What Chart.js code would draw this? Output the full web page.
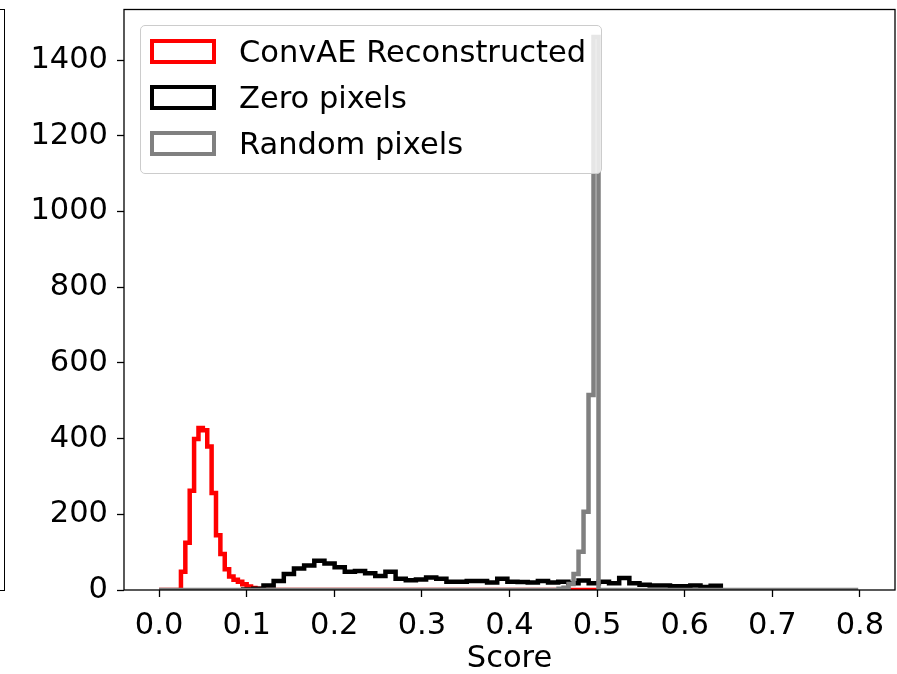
<!DOCTYPE html>
<html>
<head>
<meta charset="utf-8">
<script src="https://cdn.jsdelivr.net/npm/chart.js@4.4.0/dist/chart.umd.min.js"></script>
<style>
  html, body { margin: 0; padding: 0; background: #fff; }
  #wrap { position: relative; width: 897px; height: 674px; overflow: hidden;
          font-family: 'DejaVu Sans', sans-serif; }
  #px { position: absolute; left: 0; top: 0; }
  #prev { position: absolute; left: -20px; top: 9px; width: 25px; height: 582px;
          border: 1.3px solid #000; box-sizing: border-box; }
  #legend { position: absolute; left: 140px; top: 25px; width: 462px; height: 149px;
            border: 1.3px solid #cccccc; border-radius: 5px; box-sizing: border-box;
            background: rgba(255,255,255,0.8); }
  .handle { position: absolute; left: 150px; width: 66px; height: 25px;
            border: 4.5px solid; box-sizing: border-box; }
  .label { position: absolute; left: 239px; font-size: 30.5px; line-height: 36px;
           white-space: nowrap; color: #000; }
</style>
</head>
<body>
<div id="wrap">
  <div id="prev"></div>
  <canvas id="px" width="897" height="674"></canvas>
  <div id="legend"></div>
</div>
<script>
// histogram bins: edges (score) and counts per bin
const redEdges = [0, 0.025, 0.03, 0.035, 0.04, 0.045, 0.05, 0.055, 0.06, 0.065, 0.07,
  0.075, 0.08, 0.085, 0.09, 0.095, 0.1, 0.105, 0.11, 0.115, 0.12, 0.5];
const redCounts = [0, 48, 125, 262, 399, 428, 422, 379, 256, 145, 95,
  55, 36, 27, 22, 15, 9, 5, 3, 1, 0];

const blackEdges = [0.096, 0.1076, 0.1192, 0.1308, 0.1424, 0.154, 0.1656, 0.1772, 0.1888,
  0.2004, 0.212, 0.2236, 0.2352, 0.2468, 0.2584, 0.27, 0.2816, 0.2932, 0.3048, 0.3164,
  0.328, 0.3396, 0.3512, 0.3628, 0.3744, 0.386, 0.3976, 0.4092, 0.4208, 0.4324, 0.444,
  0.4556, 0.4672, 0.4788, 0.4904, 0.502, 0.5136, 0.5252, 0.5368, 0.5484, 0.56, 0.5716,
  0.5832, 0.5948, 0.6064, 0.618, 0.6296, 0.6412];
const blackCounts = [1, 3, 12, 24, 42, 57, 65, 77, 70, 60, 48, 50, 44, 37, 48, 30,
  26, 28, 33, 30, 22, 22, 24, 24, 20, 30, 22, 21, 20, 24, 20, 22, 18, 25, 18, 22,
  18, 32, 18, 14, 12, 12, 10, 10, 12, 8, 11];

const grayEdges = [0, 0.456, 0.4617, 0.4674, 0.4731, 0.4788, 0.4845, 0.4902, 0.4959, 0.5016, 0.798];
const grayCounts = [0, 3, 6, 16, 42, 101, 207, 515, 1461, 0];

const labels = ['ConvAE Reconstructed', 'Zero pixels', 'Random pixels'];
const colors = ['#ff0000', '#000000', '#808080'];

const xTicks = [0, 0.1, 0.2, 0.3, 0.4, 0.5, 0.6, 0.7, 0.8];
const yTicks = [0, 200, 400, 600, 800, 1000, 1200, 1400];

// matplotlib 'step' outline: up at first edge, across each bin, down at last edge
const steps = (edges, counts) => {
  const pts = [{ x: edges[0], y: 0 }];
  counts.forEach((c, i) => pts.push({ x: edges[i], y: c }));
  pts.push({ x: edges[edges.length - 1], y: 0 });
  return pts;
};

const hist = [[redEdges, redCounts], [blackEdges, blackCounts], [grayEdges, grayCounts]];

Chart.defaults.font.family = "'DejaVu Sans', sans-serif";
Chart.defaults.font.size = 30.5;
Chart.defaults.color = '#000';

const frame = {
  id: 'frame',
  afterDatasetsDraw(chart) {
    const { ctx, chartArea: a } = chart;
    ctx.save();
    ctx.strokeStyle = '#000';
    ctx.lineWidth = 1.3;
    ctx.strokeRect(a.left, a.top, a.right - a.left, a.bottom - a.top);
    ctx.restore();
  }
};

// fixed axis sizes, no label-overflow padding
const fitX = s => { s.height = 84; s.paddingLeft = 0; s.paddingRight = 0; };
const fitY = s => { s.width = 124; s.paddingTop = 0; s.paddingBottom = 0; };

new Chart(document.getElementById('px'), {
  type: 'line',
  data: {
    datasets: hist.map(([e, c], i) => ({
      label: labels[i], data: steps(e, c), borderColor: colors[i], borderWidth: 4.5,
      stepped: 'before', fill: false, pointRadius: 0, tension: 0,
      borderJoinStyle: 'miter', borderCapStyle: 'butt', clip: 0,
      order: 3 - i,
    }))
  },
  options: {
    responsive: false, animation: false, events: [],
    layout: { padding: { top: 9.5, right: 2, left: 0, bottom: 0 } },
    plugins: { legend: { display: false }, tooltip: { enabled: false } },
    scales: {
      x: {
        type: 'linear', min: -0.04, max: 0.84,
        afterBuildTicks: s => { s.ticks = xTicks.map(v => ({ value: v })); },
        afterFit: fitX,
        ticks: { padding: 11, autoSkip: false, maxRotation: 0, callback: v => v.toFixed(1) },
        grid: { drawOnChartArea: false, tickLength: 7, color: '#000', tickWidth: 1.3 },
        border: { display: false },
        title: { display: true, text: 'Score', font: { lineHeight: 0.95 }, padding: { top: 0, bottom: 0 } }
      },
      y: {
        type: 'linear', min: 0, max: 1534,
        afterBuildTicks: s => { s.ticks = yTicks.map(v => ({ value: v })); },
        afterFit: fitY,
        ticks: { padding: 9, callback: v => String(v) },
        grid: { drawOnChartArea: false, tickLength: 7, color: '#000', tickWidth: 1.3 },
        border: { display: false }
      }
    }
  },
  plugins: [frame]
});

// legend drawn over the plot, like matplotlib's framed legend
const wrap = document.getElementById('wrap');
labels.forEach((t, i) => {
  const c = 51 + 46 * i;
  const h = document.createElement('div');
  h.className = 'handle';
  h.style.top = (c - 12.5) + 'px';
  h.style.borderColor = colors[i];
  wrap.appendChild(h);
  const l = document.createElement('div');
  l.className = 'label';
  l.style.top = (c - 17.5) + 'px';
  l.textContent = t;
  wrap.appendChild(l);
});
</script>
</body>
</html>
